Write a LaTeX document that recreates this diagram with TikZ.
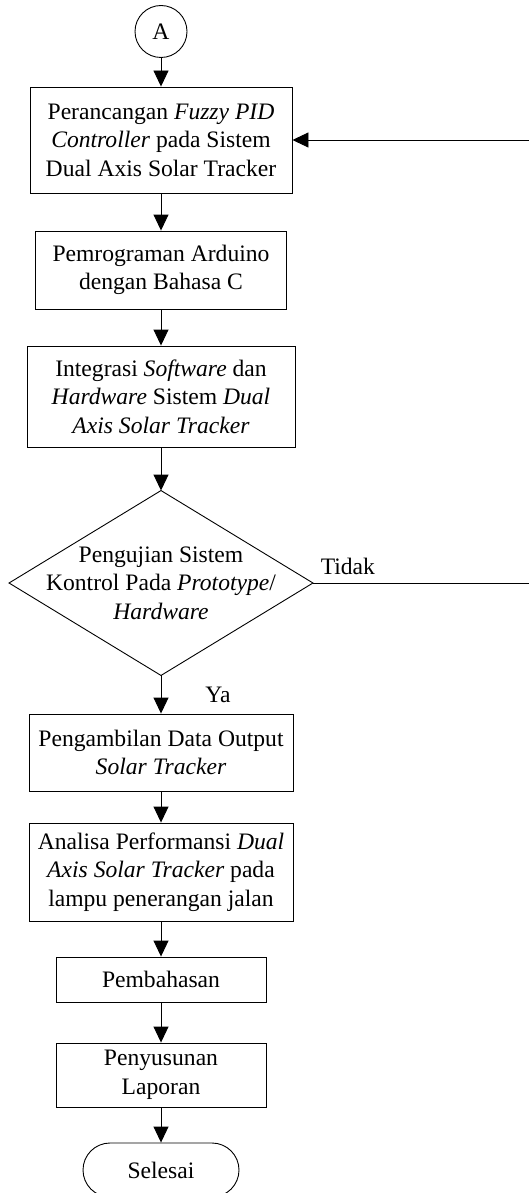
\documentclass[tikz,border=0pt]{standalone}
\usepackage{fontspec}
\setmainfont{Liberation Serif}
\usetikzlibrary{arrows.meta,shapes.misc}

\begin{document}
\begin{tikzpicture}[x=1pt, y=-1pt, line width=0.9pt,
	>={Triangle[width=15pt,length=16pt]},
	every node/.style={font=\fontsize{23.6}{28.5}\selectfont, align=center},
	kotak/.style={draw, inner sep=0pt}]

	\useasboundingbox (0,0) rectangle (528,1193);

	\node [draw, circle, minimum size=52pt, inner sep=0pt] (A) at (161, 31.5) {A};
	\node [kotak, minimum width=262pt, minimum height=106pt] (rancang) at (161, 140) {Perancangan \textit{Fuzzy PID}\\\textit{Controller} pada Sistem\\Dual Axis Solar Tracker};
	\node [kotak, minimum width=251pt, minimum height=78pt] (program) at (161, 270) {Pemrograman Arduino\\dengan Bahasa C};
	\node [kotak, minimum width=268pt, minimum height=101pt] (integrasi) at (161, 396.5) {Integrasi \textit{Software} dan\\\textit{Hardware} Sistem \textit{Dual}\\\textit{Axis Solar Tracker}};

	% keputusan
	\node [minimum width=303pt, minimum height=184pt, inner sep=0pt] (uji) at (161, 583) {Pengujian Sistem\\Kontrol Pada \textit{Prototype}/\\\textit{Hardware}};
	\draw (uji.north) -- (uji.east) -- (uji.south) -- (uji.west) -- cycle;

	\node [kotak, minimum width=264pt, minimum height=77pt] (data) at (161, 752.5) {Pengambilan Data Output\\\textit{Solar Tracker}};
	\node [kotak, minimum width=264pt, minimum height=98pt] (analisa) at (161, 872) {Analisa Performansi \textit{Dual}\\\textit{Axis Solar Tracker} pada\\lampu penerangan jalan};
	\node [kotak, minimum width=210pt, minimum height=45pt] (bahas) at (161, 979.5) {Pembahasan};
	\node [kotak, minimum width=210pt, minimum height=64pt] (laporan) at (161, 1075) {Penyusunan\\Laporan};
	\node [draw, rounded rectangle, minimum width=156pt, minimum height=54pt, inner sep=0pt] (selesai) at (161, 1170) {Selesai};

	\node [anchor=west] (tidak) at (317, 566) {Tidak};
	\node (ya) at (218, 695) {Ya};

	% garis balik lewat luar tepi kanan
	\coordinate (kananbawah) at (532, 583);
	\coordinate (kananatas) at (532, 140);

	\draw [->] (A) -- (rancang);
	\draw [->] (rancang) -- (program);
	\draw [->] (program) -- (integrasi);
	\draw [->] (integrasi) -- (uji.north);
	\draw [->] (uji.south) -- (data);
	\draw [->] (data) -- (analisa);
	\draw [->] (analisa) -- (bahas);
	\draw [->] (bahas) -- (laporan);
	\draw [->] (laporan) -- (selesai);
	\draw [->] (uji.east) -- (kananbawah) -- (kananatas) -- (rancang.east);

\end{tikzpicture}
\end{document}
